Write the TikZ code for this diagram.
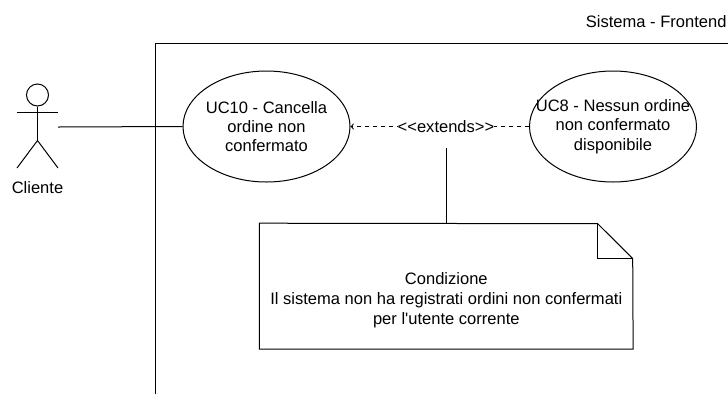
\documentclass[tikz,border=0pt]{standalone}
\usepackage{fontspec}
\setmainfont{Liberation Sans}
\usetikzlibrary{shapes.geometric}
\tikzset{
    usecase/.style={draw,ellipse,minimum width=125.25pt,minimum height=83.25pt,inner sep=0pt},
    txt/.style={align=center,inner sep=0pt,font=\fontsize{12.4}{14.5}\selectfont},
}
\begin{document}
\begin{tikzpicture}[x=0.75pt,y=-0.75pt,line width=0.75pt]
                \useasboundingbox (0,0) rectangle (728,394);
                %% system
                \draw (155.5,394) -- (155.5,43.5) -- (728,43.5);
                \node[txt,anchor=east] (sistema) at (727,22) {Sistema - Frontend};
                %% actor
                \node[draw,circle,minimum size=16.5pt,inner sep=0pt] (head) at (37.5,95) {};
                \coordinate (hip) at (37.5,140.5);
                \coordinate (hand) at (58,127);
                \draw (head.south) -- (hip);
                \draw (17,112.5) -- (58,112.5);
                \draw (17,168) -- (hip) -- (58,168);
                \node[txt] (cliente) at (37.5,188) {Cliente};
                %% use cases
                \node[usecase] (uc10) at (266.5,126.5) {};
                \node[txt] (uc10text) at (uc10) {UC10 - Cancella\\ordine non\\confermato};
                \node[usecase] (uc8) at (613,126.5) {};
                \node[txt] (uc8text) at (uc8) {UC8 - Nessun ordine\\non confermato\\disponibile};
                \draw (hand) -- (uc10.west);
                \draw[dashed,->] (uc8.west) -- (uc10.east) node[pos=0.465,fill=white,txt] (extends) {<{}<extends>{}>};
                %% note
                \node[minimum width=279.5pt,minimum height=93.75pt,inner sep=0pt] (note) at (446.3,286.2) {};
                \node[txt,font=\fontsize{12.4}{15}\selectfont] (notetext) at (446.3,300) {Condizione\\Il sistema non ha registrati ordini non confermati\\per l\textquotesingle utente corrente};
                \coordinate (foldtop) at (597.7,223.7);
                \coordinate (foldside) at (632.7,258.5);
                \draw (note.south west) -- (note.north west) -- (foldtop) -- (foldside) -- (note.south east) -- cycle;
                \draw (foldtop) -- (597.7,258.5) -- (foldside);
                \coordinate (notelink) at (446.3,148);
                \draw (notelink) -- (note.north);
            \end{tikzpicture}
\end{document}
